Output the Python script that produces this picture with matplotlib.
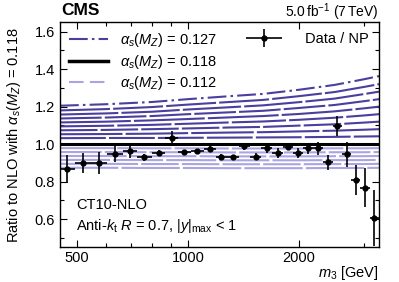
import numpy as np
import matplotlib
matplotlib.use("Agg")
import matplotlib.pyplot as plt
from matplotlib.ticker import FixedLocator, NullFormatter, FixedFormatter
from matplotlib.lines import Line2D
from matplotlib.legend_handler import HandlerErrorbar

plt.rcParams['font.family'] = ['Liberation Sans', 'DejaVu Sans']
plt.rcParams['mathtext.fontset'] = 'custom'
plt.rcParams['mathtext.rm'] = 'Liberation Sans'
plt.rcParams['mathtext.it'] = 'Liberation Sans:italic'
plt.rcParams['mathtext.bf'] = 'Liberation Sans:bold'

# theory curves: ratio of NLO(alpha_s) / NLO(0.118) at a few m3 nodes
m_nodes = [450, 600, 800, 1000, 1300, 1600, 2000, 2500, 3000, 3300]
alphas_up = [0.119, 0.120, 0.121, 0.122, 0.123, 0.124, 0.125, 0.126, 0.127]
ratio_up = [
    [1.032, 1.033, 1.033, 1.034, 1.035, 1.036, 1.037, 1.039, 1.041, 1.042],
    [1.053, 1.054, 1.056, 1.059, 1.062, 1.064, 1.068, 1.072, 1.077, 1.080],
    [1.074, 1.076, 1.080, 1.084, 1.089, 1.092, 1.099, 1.106, 1.115, 1.120],
    [1.095, 1.098, 1.103, 1.109, 1.116, 1.121, 1.130, 1.141, 1.153, 1.160],
    [1.116, 1.120, 1.127, 1.134, 1.143, 1.150, 1.161, 1.175, 1.191, 1.200],
    [1.137, 1.142, 1.150, 1.160, 1.170, 1.178, 1.193, 1.209, 1.229, 1.240],
    [1.158, 1.164, 1.173, 1.185, 1.197, 1.207, 1.224, 1.243, 1.267, 1.280],
    [1.180, 1.187, 1.198, 1.211, 1.225, 1.236, 1.256, 1.278, 1.305, 1.320],
    [1.205, 1.213, 1.225, 1.240, 1.256, 1.268, 1.290, 1.316, 1.346, 1.363],
]
alphas_dn = [0.117, 0.116, 0.115, 0.114, 0.113, 0.112]
ratio_dn = [
    [0.979, 0.979, 0.978, 0.978, 0.977, 0.977, 0.977, 0.978, 0.978, 0.979],
    [0.958, 0.958, 0.957, 0.957, 0.956, 0.956, 0.956, 0.957, 0.957, 0.958],
    [0.937, 0.937, 0.936, 0.936, 0.935, 0.935, 0.935, 0.936, 0.936, 0.937],
    [0.916, 0.916, 0.915, 0.915, 0.914, 0.914, 0.914, 0.915, 0.915, 0.916],
    [0.895, 0.895, 0.894, 0.894, 0.893, 0.893, 0.893, 0.894, 0.894, 0.895],
    [0.874, 0.874, 0.873, 0.873, 0.872, 0.872, 0.872, 0.873, 0.873, 0.874],
]

# data / NP points
m3 = [469, 521, 574, 635, 698, 762, 834, 903, 975, 1061, 1146, 1233, 1326, 1421,
      1526, 1638, 1751, 1872, 1993, 2122, 2251, 2397, 2541, 2700, 2850, 3028, 3198]
edges = [445, 495, 548, 604, 666, 730, 798, 868, 939, 1018, 1103, 1189, 1279, 1373,
         1473, 1582, 1694, 1811, 1932, 2057, 2186, 2324, 2469, 2620, 2775, 2939, 3113, 3290]
ratio = [0.866, 0.898, 0.901, 0.948, 0.964, 0.930, 0.955, 1.031, 0.957, 0.964, 0.973,
         0.933, 0.932, 0.988, 0.933, 0.980, 0.951, 0.987, 0.951, 0.978, 0.978, 0.903,
         1.097, 0.946, 0.809, 0.768, 0.608]
err = [0.075, 0.053, 0.058, 0.045, 0.040, 0.020, 0.015, 0.038, 0.010, 0.010, 0.015,
       0.015, 0.010, 0.020, 0.020, 0.027, 0.027, 0.020, 0.027, 0.030, 0.035, 0.040,
       0.055, 0.067, 0.080, 0.104, 0.150]

dark = '#4a3e9e'
light = '#aaa4e2'

fig = plt.figure(figsize=(3.99, 2.82), dpi=100)
ax = fig.add_axes([0.1504, 0.123, 0.7996, 0.798])

lw = 1.5
up_dashes = [(22, 1.5), (30, 1.5), (18, 1.5), (26, 1.5), (34, 1.5), (20, 1.5), (28, 1.5), (24, 1.5)]
for k, vals in enumerate(ratio_up):
    if k == len(ratio_up) - 1:
        ax.plot(m_nodes, vals, color=dark, lw=lw, dashes=(9, 2, 1.2, 2))
    else:
        ax.plot(m_nodes, vals, color=dark, lw=lw, dashes=up_dashes[k])

dn_dashes = [(26, 1.5), (20, 1.5), (32, 1.5), (24, 1.5), (18, 1.5), (28, 1.5)]
for k, vals in enumerate(ratio_dn):
    ax.plot(m_nodes, vals, color=light, lw=lw, dashes=dn_dashes[k])

ax.axhline(1.0, color='black', lw=2.2)

m3 = np.array(m3)
e = np.array(edges)
xerr = [m3 - e[:-1], e[1:] - m3]
data_h = ax.errorbar(m3, ratio, yerr=err, xerr=xerr, fmt='o', color='black', ms=3.5,
                     elinewidth=1.2, capsize=0)

ax.set_xscale('log')
ax.set_xlim(450, 3300)
ax.set_ylim(0.45, 1.65)
ax.xaxis.set_major_locator(FixedLocator([500, 1000, 2000]))
ax.xaxis.set_major_formatter(FixedFormatter(['500', '1000', '2000']))
ax.xaxis.set_minor_locator(FixedLocator([600, 700, 800, 900, 3000]))
ax.xaxis.set_minor_formatter(NullFormatter())
ax.yaxis.set_major_locator(FixedLocator([0.6, 0.8, 1.0, 1.2, 1.4, 1.6]))
ax.yaxis.set_minor_locator(FixedLocator([0.5, 0.7, 0.9, 1.1, 1.3, 1.5]))
ax.tick_params(which='both', direction='in', top=True, right=True, labelsize=10.5, width=0.8)
ax.tick_params(which='major', length=5)
ax.tick_params(which='minor', length=3)
ax.tick_params(axis='x', pad=3)
for s in ax.spines.values():
    s.set_linewidth(1.0)

fig.text(0.948, 0.032, r'$m_3$ [GeV]', fontsize=10.5, ha='right', va='center')
fig.text(0.035, 0.52, r'Ratio to NLO with $\alpha_s(M_Z)$ = 0.118', rotation=90,
         ha='center', va='center', fontsize=10.5)

fig.text(0.153, 0.963, 'CMS', fontsize=12.5, fontweight='bold', ha='left', va='center')
fig.text(0.948, 0.955, r'5.0$\,$fb$^{-1}$ (7$\,$TeV)', fontsize=10, ha='right', va='center')

ax.text(0.05, 0.188, 'CT10-NLO', transform=ax.transAxes, fontsize=10.5, va='center')
ax.text(0.05, 0.096, r'Anti-$k_\mathrm{t}$ $R$ = 0.7, $|y|_\mathrm{max}$ < 1',
        transform=ax.transAxes, fontsize=10.5, va='center')

h1 = [Line2D([], [], color=dark, lw=lw, dashes=(9, 2, 1.2, 2)),
      Line2D([], [], color='black', lw=2.5),
      Line2D([], [], color=light, lw=lw, dashes=(7, 3))]
leg1 = ax.legend(h1, [r'$\alpha_s(M_Z)$ = 0.127', r'$\alpha_s(M_Z)$ = 0.118', r'$\alpha_s(M_Z)$ = 0.112'],
                 loc='upper left', bbox_to_anchor=(0.0, 1.0), frameon=False, fontsize=10.5,
                 handlelength=2.7, handletextpad=0.8, labelspacing=0.25, borderaxespad=0.2)
ax.add_artist(leg1)
ax.legend([data_h], ['Data / NP'], loc='upper right', bbox_to_anchor=(1.0, 1.0), frameon=False,
          fontsize=10.5, handlelength=3.6, handletextpad=1.0, borderaxespad=0.3,
          handler_map={type(data_h): HandlerErrorbar(xerr_size=1.25, yerr_size=0.62)})

fig.savefig('out.png', dpi=100)
